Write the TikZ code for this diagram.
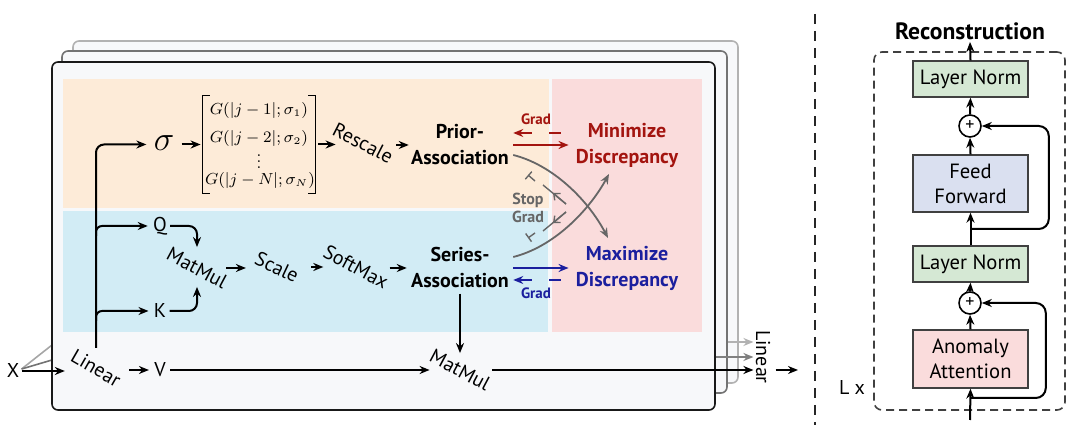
\documentclass[tikz,border=0pt]{standalone}
\usepackage{fontspec}
\usepackage{graphicx}
\setmainfont{PT Sans}
\usetikzlibrary{arrows.meta,calc}
\definecolor{framebg}{HTML}{F7F8FA}
\definecolor{orangebg}{HTML}{FDEBD8}
\definecolor{bluebg}{HTML}{D2ECF5}
\definecolor{pinkbg}{HTML}{FADCDC}
\definecolor{darkred}{HTML}{A3140F}
\definecolor{darkblue}{HTML}{1B1F9E}
\definecolor{sgray}{HTML}{666666}
\definecolor{lngreen}{HTML}{D5E8D4}
\definecolor{fflav}{HTML}{DAE0F0}
\begin{document}
\begin{tikzpicture}[x=0.5pt,y=-0.5pt,
  txt/.style={font=\fontsize{10}{13}\selectfont, inner sep=0pt, align=center},
  btxt/.style={font=\fontsize{10}{13}\selectfont\bfseries, inner sep=0pt, align=center},
  small/.style={font=\fontsize{7.5}{8.5}\selectfont\bfseries, inner sep=0pt, align=center},
  arr/.style={line width=1pt, -{Stealth[length=5pt,width=4pt]}},
  garr/.style={line width=0.9pt, sgray, -{Stealth[length=5pt,width=4pt]}},
  sgline/.style={line width=0.7pt, sgray},
  frame/.style={rounded corners=3pt, fill=framebg, line width=0.8pt},
  block/.style={draw=black!75, line width=0.7pt, minimum width=57.5pt, inner sep=0pt, align=center, font=\fontsize{10.3}{12.5}\selectfont},
  pluss/.style={circle, draw, line width=0.8pt, fill=white, minimum size=11pt, inner sep=0pt, font=\fontsize{9}{9}\selectfont},
]
\useasboundingbox (0,0) rectangle (1080,431);

% input lines to the stacked heads
\node[txt] (X) at (13,371) {X};
\coordinate (xa) at (52,345);
\coordinate (xb) at (52,360);
\draw[line width=0.8pt, black!35] ($(X.east)+(2,-2)$) -- (xa);
\draw[line width=0.8pt, black!55] ($(X.east)+(2,-2)$) -- (xb);

% frames
\node[frame, draw=black!30, minimum width=332.5pt, minimum height=171pt] (f3) at (405.5,212) {};
\node[frame, draw=black!55, minimum width=332.5pt, minimum height=171pt] (f2) at (394.5,222) {};
\node[frame, draw=black!90, minimum width=331.5pt, minimum height=174pt] (f1) at (383.5,236) {};

% regions
\fill[orangebg] (63,79) rectangle (549,208);
\fill[bluebg] (63,211) rectangle (548,332);
\fill[pinkbg] (552,79) rectangle (702,332);

% upper branch
\node[inner sep=0pt, font=\fontsize{18}{18}\selectfont] (sig) at (164,143) {$\sigma$};
\node[minimum width=56pt, minimum height=48.5pt, inner sep=0pt] (Gbox) at (259,144.5) {};
\draw[line width=0.7pt] ([xshift=3.5pt]Gbox.north west) -- (Gbox.north west) -- (Gbox.south west) -- ([xshift=3.5pt]Gbox.south west);
\draw[line width=0.7pt] ([xshift=-3.5pt]Gbox.north east) -- (Gbox.north east) -- (Gbox.south east) -- ([xshift=-3.5pt]Gbox.south east);
\begin{scope}[every node/.style={font=\fontsize{7.8}{9}\selectfont, inner sep=0pt}]
\node (g1) at (259,111) {$G(|j-1|;\sigma_1)$};
\node (g2) at (259,139) {$G(|j-2|;\sigma_2)$};
\node (g3) at (259,162) {\vbox{\baselineskip=3pt\lineskiplimit=0pt\hbox{$.$}\hbox{$.$}\hbox{$.$}}};
\node (g4) at (260,181) {$G(|j-N|;\sigma_N)$};
\end{scope}
\node[txt] (resc) at (363,143) {\rotatebox{-27}{Rescale}};
\node[btxt] (prior) at (460,145) {Prior-\\Association};
\node[btxt, text=darkred] (minD) at (627,145) {Minimize\\Discrepancy};
\node[btxt] (series) at (460,268) {Series-\\Association};
\node[btxt, text=darkblue] (maxD) at (627,268) {Maximize\\Discrepancy};

\draw[arr] ($(sig.east |- Gbox.west)+(7,0)$) -- ($(Gbox.west)+(-2,0)$);
\draw[arr] ($(Gbox.east)+(3,0)$) -- ($(Gbox.east -| resc.west)+(5,0)$);
\draw[arr] ($(resc.east |- prior.west)+(1,0)$) -- ($(prior.west)+(-2,0)$);

% discrepancy arrows
\draw[arr, darkred] ($(prior.east)+(4,0)$) -- ($(minD.west)+(-7,0)$);
\draw[arr, darkred, dash pattern=on 6pt off 8.5pt on 10pt] ($(minD.west)+(-15,-12)$) -- ($(prior.east)+(4,-12)$);
\node[small, text=darkred] (gr1) at (536,119) {Grad};
\draw[arr, darkblue] ($(series.east)+(4,0)$) -- ($(maxD.west)+(-7,0)$);
\draw[arr, darkblue, dash pattern=on 6pt off 8.5pt on 10pt] ($(maxD.west)+(-15,12)$) -- ($(series.east)+(4,12)$);
\node[small, text=darkblue] (gr2) at (536,293) {Grad};

\coordinate (c1) at (608,238);
\coordinate (c2) at (609,174);
\draw[garr] ($(prior.east)+(4,10)$) .. controls (553,165) and (588,200) .. (c1);
\draw[garr] ($(series.east)+(4,-11)$) .. controls (553,247) and (588,212) .. (c2);

% stop grad markers
\coordinate (s1a) at (566,204);
\coordinate (s1m) at (553,193);
\coordinate (s1b) at (543,185);
\coordinate (s1c) at (535,181);
\coordinate (s1d) at (528,175);
\draw[sgline] (s1a) -- (s1b);
\draw[sgline, -{Straight Barb[length=2.5pt,width=4.5pt]}] (s1a) -- (s1m);
\draw[sgline, -{Bar[width=5pt]}] (s1c) -- (s1d);
\coordinate (s2a) at (566,212);
\coordinate (s2m) at (553,223);
\coordinate (s2b) at (543,231);
\coordinate (s2c) at (535,233);
\coordinate (s2d) at (528,238);
\draw[sgline] (s2a) -- (s2b);
\draw[sgline, -{Straight Barb[length=2.5pt,width=4.5pt]}] (s2a) -- (s2m);
\draw[sgline, -{Bar[width=5pt]}] (s2c) -- (s2d);
\node[font=\fontsize{8}{9}\selectfont\bfseries, inner sep=0pt, align=center, text=sgray] (stop) at (528,208) {Stop\\Grad};

% lower branch
\node[txt] (Q) at (160,226) {Q};
\node[txt] (K) at (160,311) {K};
\node[txt] (mm1) at (197,268) {\rotatebox{-28}{MatMul}};
\node[txt] (scale) at (277,267) {\rotatebox{-25}{Scale}};
\node[txt] (soft) at (356,267) {\rotatebox{-28}{SoftMax}};
\node[txt] (lin1) at (96,368) {\rotatebox{-30}{Linear}};
\node[txt] (V) at (160,370) {V};
\node[txt] (mm2) at (460,370) {\rotatebox{-28}{MatMul}};
\node[txt] (lin2) at (763,357) {\rotatebox{-90}{Linear}};

\draw[arr, rounded corners=4pt] (lin1.north) |- ($(sig.west |- Gbox.west)+(-7,0)$);
\draw[arr, rounded corners=3pt] ($(lin1.north |- Q.west)+(0,10)$) |- ($(Q.west)+(-5,0)$);
\draw[arr, rounded corners=3pt] ($(lin1.north |- K.west)+(0,10)$) |- ($(K.west)+(-5,0)$);
\draw[arr, rounded corners=4pt] ($(Q.east)+(3,0)$) -| ($(mm1.north)+(0,1)$);
\draw[arr, rounded corners=4pt] ($(K.east)+(3,0)$) -| ($(mm1.south)+(0,-3)$);
\draw[arr] ($(mm1.east)+(-3,0)$) -- ($(mm1.east -| scale.west)+(-7,0)$);
\draw[arr] ($(scale.east |- soft.west)+(10,0)$) -- ($(soft.west)+(2,0)$);
\draw[arr] ($(soft.east |- series.west)+(-1,0)$) -- ($(series.west)+(-4,0)$);
\draw[arr] ($(series.south)+(0,5)$) -- ($(mm2.north)+(0,5)$);
\draw[arr] ($(X.east)+(2,0)$) -- ($(X.east -| lin1.west)+(-4,0)$);
\draw[arr] ($(lin1.east |- V.west)+(6,0)$) -- ($(V.west)+(-5,0)$);
\draw[arr] ($(V.east)+(4,0)$) -- ($(V.east -| mm2.west)+(2,0)$);
\draw[arr] (mm2.east) -- ($(mm2.east -| lin2.west)+(-2,0)$);
\draw[arr, black!50] (f1.east |- lin2.west) -- ($(lin2.west)+(-2,0)$);
\draw[arr, black!30] ($(f2.east |- lin2.west)+(0,-15)$) -- ($(lin2.west)+(-2,-15)$);
\coordinate (out) at (798,370);
\draw[arr] ($(lin2.east |- mm2.east)+(5,0)$) -- (out);

% right part
\coordinate (dl1) at (815,14);
\coordinate (dl2) at (815,425);
\draw[dash pattern=on 5pt off 3.5pt, line width=1pt, black!85] (dl1) -- (dl2);
\node[draw=black!75, dash pattern=on 4pt off 2.5pt, line width=0.8pt, rounded corners=4pt, minimum width=95.5pt, minimum height=179pt] (Lbox) at (969.5,231) {};
\node[block, fill=lngreen, minimum height=18pt] (ln1) at (970.5,79) {Layer Norm};
\node[pluss] (p1) at (970,126) {+};
\node[block, fill=fflav, minimum height=28.5pt] (ff) at (970.5,183.5) {Feed\\Forward};
\node[block, fill=lngreen, minimum height=18pt] (ln2) at (970.5,264) {Layer Norm};
\node[pluss] (p2) at (970,303) {+};
\node[block, fill=pinkbg, minimum height=29pt] (aa) at (970.5,359) {Anomaly\\Attention};
\node[font=\fontsize{11.8}{13}\selectfont\bfseries, inner sep=0pt] (recon) at (970,31) {Reconstruction};
\node[txt] (Lx) at (852,388) {L x};
\coordinate (inp) at (970,420);
\coordinate (r1) at (970,398);
\coordinate (r2) at (970,229);

\draw[arr] (inp) -- (aa.south);
\draw[arr] (aa.north) -- (p2.south);
\draw[arr] (p2.north) -- (ln2.south);
\draw[arr] (ln2.north) -- (ff.south);
\draw[arr] (ff.north) -- (p1.south);
\draw[arr] (p1.north) -- (ln1.south);
\draw[arr] (ln1.north) -- ($(recon.south)+(0,2)$);
\draw[arr, rounded corners=5pt] (r1) -| ($(p2.east)+(64,0)$) -- (p2.east);
\draw[arr, rounded corners=5pt] (r2) -| ($(p1.east)+(67,0)$) -- (p1.east);
\end{tikzpicture}
\end{document}
